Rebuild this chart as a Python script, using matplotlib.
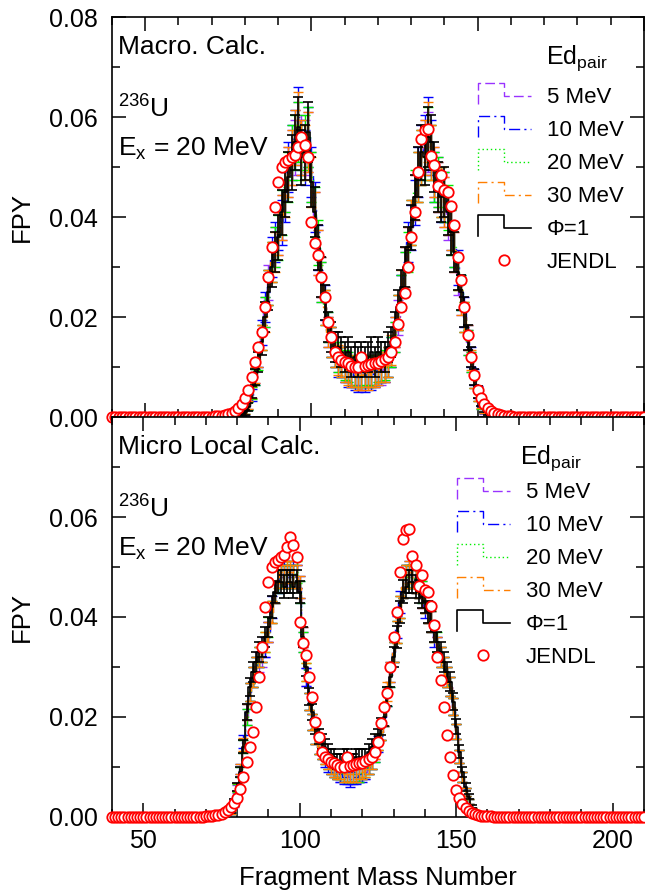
import numpy as np
import matplotlib
matplotlib.use("Agg")
import matplotlib.pyplot as plt
from matplotlib.lines import Line2D
from matplotlib.legend_handler import HandlerBase
from matplotlib.ticker import MultipleLocator, FormatStrFormatter

plt.rcParams["font.family"] = ["Liberation Sans", "DejaVu Sans"]
plt.rcParams["mathtext.fontset"] = "custom"
plt.rcParams["mathtext.rm"] = "Liberation Sans"
plt.rcParams["mathtext.it"] = "Liberation Sans:italic"

# all yields below are FPY x 1000
mass_model = np.arange(78, 157)

# --- macroscopic calculation ---
macro_5 = [0, 0.4, 1.2, 2.5, 5, 8.5, 12, 16, 21, 27,
           31, 34, 37, 40, 46, 49, 52, 54, 57, 55,
           54, 55, 48, 40, 33, 27, 22, 18, 15, 13,
           12, 11, 10, 10, 9, 9.5, 9, 8.5, 9, 9,
           9.5, 9, 10, 9.5, 10, 11, 13, 16, 20, 25,
           29, 34, 39, 44, 48, 52, 54, 55, 53, 49,
           47, 45, 43, 40, 37, 33, 28, 24, 20, 15,
           11, 7.5, 4.5, 2.5, 1.2, 0.5, 0.2, 0.1, 0]
macro_10 = [0, 0.5, 1.0, 2.2, 4.5, 8, 12, 17, 22, 26,
            32, 35, 38, 39, 44, 50, 53, 56, 60, 54,
            52, 56, 49, 42, 34, 28, 23, 17, 15, 13,
            11, 11, 10, 9, 9, 8.5, 8, 8.5, 8, 9,
            8.5, 9, 9.5, 10, 10, 11, 13, 17, 21, 25,
            30, 35, 38, 43, 49, 53, 55, 58, 54, 48,
            46, 44, 44, 41, 38, 34, 30, 25, 21, 16,
            12, 8, 5, 3, 1.4, 0.6, 0.2, 0.1, 0]
macro_20 = [0, 0.4, 1.1, 2.3, 4.8, 8, 11.5, 16, 21, 26,
            31, 34, 36, 41, 46, 48, 53, 55, 57, 53,
            55, 56, 48, 41, 35, 27, 22, 18, 15, 13,
            12, 11, 10.5, 10, 9.5, 9, 9, 9, 9.5, 9,
            9, 9.5, 10, 10, 10.5, 11, 13, 16, 21, 25,
            29, 33, 39, 45, 48, 52, 53, 56, 53, 48,
            47, 45, 44, 42, 37, 34, 29, 25, 20, 15,
            11, 7.5, 4.5, 2.5, 1.3, 0.5, 0.2, 0.1, 0]
macro_30 = [0, 0.5, 1.2, 2.4, 5, 8.5, 12, 16, 20, 26,
            31, 33, 37, 40, 45, 49, 52, 56, 59, 54,
            53, 55, 47, 40, 33, 28, 22, 17, 15, 13,
            11.5, 11, 10, 9.5, 9, 9, 8.5, 8.5, 9, 8.5,
            9, 9, 9.5, 10, 10, 11, 13.5, 17, 21, 26,
            30, 34, 39, 44, 48, 52, 54, 57, 53, 49,
            46, 45, 43, 41, 38, 33, 29, 24, 20, 16,
            11.5, 7.5, 4.5, 2.6, 1.3, 0.5, 0.2, 0.1, 0]
macro_phi1 = [0, 0.5, 1, 2, 5, 8, 11, 15, 20, 25,
              30, 33, 36, 41, 45, 48, 51, 55, 58, 52,
              53, 57, 47, 41, 34, 28, 23, 18, 16, 14,
              14, 13, 12, 13, 11, 12, 11, 12, 11, 12,
              13, 11, 13, 12, 12, 14, 15, 18, 22, 26,
              30, 34, 38, 44, 49, 53, 52, 56, 55, 50,
              46, 44, 45, 41, 37, 33, 29, 25, 21, 16,
              12, 8, 5, 3, 1.5, 0.7, 0.3, 0.1, 0]
macro_err = [0, 0.3, 0.5, 0.8, 1.2, 1.6, 2, 2.5, 3, 3.5,
             4, 4, 4.5, 4.5, 5, 5, 5.5, 5.5, 6, 5.5,
             5.5, 6, 5, 5, 4.5, 4, 3.5, 3, 3, 3,
             3, 3, 3, 3, 3, 3, 3, 3, 3, 3,
             3, 3, 3, 3, 3, 3, 3, 3, 3.5, 3.5,
             4, 4, 4.5, 4.5, 5, 5.5, 5.5, 6, 5.5, 5,
             5, 5, 5, 4.5, 4.5, 4, 3.5, 3.5, 3, 2.5,
             2, 1.6, 1.2, 0.8, 0.5, 0.3, 0.2, 0.1, 0]

# --- microscopic local calculation ---
micro_5 = [0.8, 2.5, 5.5, 9, 14, 20, 25, 28, 30, 31,
           32, 34, 37, 41, 45, 47, 48, 48, 48, 49,
           48, 48, 45, 35, 28, 23, 19, 16, 14, 13,
           12, 11, 10, 9.5, 9, 8.5, 8.5, 8.5, 8, 8.5,
           8.5, 8.5, 9, 9, 10, 11, 13, 15, 17, 20,
           24, 28, 33, 37, 42, 46, 48, 48, 48, 47,
           46, 45, 43, 41, 39, 37, 34, 32, 30, 28,
           26, 22, 17, 12, 8, 5, 3, 1.5, 0.6]
micro_10 = [0.9, 2.8, 6, 9.5, 15, 21, 25, 28, 30, 32,
            33, 34, 37, 42, 45, 47, 48, 49, 48, 48,
            49, 48, 46, 36, 28, 23, 19, 16, 14, 13,
            11.5, 10.5, 10, 9.5, 9, 8.5, 8, 8, 7.5, 8,
            8, 8.5, 8.5, 9, 10, 11, 12.5, 14.5, 17, 20,
            24, 29, 33, 38, 43, 46, 48, 49, 48, 47,
            46, 44, 42, 41, 39, 36, 34, 32, 30, 28,
            26, 22, 17, 12, 8, 5, 3, 1.5, 0.6]
micro_20 = [0.8, 2.6, 5.8, 9, 14, 20, 25, 28, 30, 32,
            33, 35, 38, 41, 45, 47, 48, 48, 49, 48,
            48, 49, 45, 35, 29, 23, 19, 16, 14, 13,
            12, 11, 10, 9.5, 9, 9, 8.5, 8.5, 8.5, 8.5,
            8.5, 8.5, 9, 9.5, 10, 11, 12.5, 15, 17, 20,
            24, 28, 33, 37, 42, 46, 48, 48, 48, 47,
            46, 45, 43, 41, 39, 37, 35, 32, 30, 28,
            26, 22, 17, 12, 8, 5, 3, 1.5, 0.6]
micro_30 = [0.9, 2.7, 6, 9.5, 14.5, 21, 25, 28, 30, 32,
            33, 35, 37, 41, 45, 48, 49, 48, 49, 49,
            48, 48, 46, 36, 29, 23, 19, 16, 14, 13,
            12, 11, 10, 9.5, 9, 9, 8.5, 8.5, 8.5, 8.5,
            8.5, 9, 9, 9.5, 10, 11, 13, 15, 17, 20,
            25, 29, 33, 37, 42, 46, 48, 49, 48, 47,
            46, 44, 43, 41, 39, 37, 34, 32, 30, 28,
            26, 22, 17, 12, 8, 5, 3, 1.5, 0.6]
micro_phi1 = [1, 3, 6, 9, 14, 21, 26, 29, 31, 33,
              34, 36, 38, 42, 45, 47, 47, 46, 47, 47,
              46, 47, 45, 36, 30, 24, 21, 18, 16, 15,
              14, 13, 12, 12, 11, 11, 12, 12, 11, 11,
              12, 12, 12, 12, 13, 14, 15, 16, 18, 20,
              24, 28, 32, 36, 41, 45, 46, 47, 47, 46,
              45, 44, 43, 41, 39, 37, 35, 33, 31, 29,
              27, 23, 18, 13, 9, 6, 4, 2, 1]
micro_err = [0.3, 0.5, 0.8, 1, 1.3, 1.6, 1.8, 2, 2, 2,
             2, 2, 2, 2.2, 2.2, 2.3, 2.3, 2.3, 2.3, 2.3,
             2.3, 2.3, 2.2, 2, 1.8, 1.7, 1.6, 1.5, 1.5, 1.5,
             1.5, 1.5, 1.5, 1.5, 1.5, 1.5, 1.5, 1.5, 1.5, 1.5,
             1.5, 1.5, 1.5, 1.5, 1.5, 1.5, 1.5, 1.6, 1.7, 1.8,
             1.9, 2, 2, 2.2, 2.2, 2.3, 2.3, 2.3, 2.3, 2.3,
             2.3, 2.2, 2.2, 2.2, 2.1, 2, 2, 2, 2, 2,
             1.9, 1.7, 1.5, 1.3, 1, 0.8, 0.5, 0.3, 0.2]

# --- JENDL evaluated yields, A = 40..210 ---
jendl_mass = np.arange(40, 211)
jendl_core = [0.02, 0.03, 0.05, 0.07, 0.1, 0.15, 0.2, 0.3, 0.45, 0.65,
              0.9, 1.3, 1.9, 2.7, 3.8, 5.5, 8.0, 11, 14, 17,
              22, 28, 34, 42, 47, 50, 51, 51.5, 52, 52.5,
              54, 56, 54.5, 52, 39, 34.8, 32.4, 28, 24, 19,
              16, 13, 12, 11.5, 11, 10.8, 10.3, 10, 10, 12,
              10.2, 10.4, 10.6, 10.8, 10.8, 11.2, 11.6, 12, 13, 15,
              18.7, 22, 24.8, 30, 36, 41, 49, 55.6, 57.4, 57.6,
              52.2, 50.4, 46.2, 48.4, 45.4, 45, 42.2, 38.4, 32, 27.4,
              22, 16.4, 12, 8.4, 5.4, 3.8, 2.6, 1.8, 1.2, 0.8,
              0.55, 0.4, 0.28, 0.2, 0.14, 0.1, 0.07, 0.05, 0.03, 0.02, 0.01]
jendl = [0.0] * 26 + jendl_core + [0.0] * 44

labels = ["5 MeV", "10 MeV", "20 MeV", "30 MeV", "\u03a6=1"]
colors = ["#9933ff", "#0000ff", "#00ee00", "#ff7f00", "black"]
styles = [(0, (7, 3)), (0, (8, 3, 1.5, 3)), (0, (1, 2)), (0, (7, 3, 1.5, 3)), "-"]


class StepHandler(HandlerBase):
    # histogram-like step for the legend key
    def create_artists(self, legend, orig_handle, xdescent, ydescent,
                       width, height, fontsize, trans):
        x0, y0 = -xdescent, -ydescent
        xs = [x0, x0, x0 + 0.5 * width, x0 + 0.5 * width, x0 + width]
        ys = [y0 - 0.1 * height, y0 + 1.25 * height, y0 + 1.25 * height,
              y0 + 0.45 * height, y0 + 0.45 * height]
        line = Line2D(xs, ys)
        self.update_prop(line, orig_handle, legend)
        line.set_transform(trans)
        return [line]


def draw_panel(ax, series, err, xmax, title, leg_x, leg_y, ed_x):
    yerr = np.array(err) / 1000
    for vals, color, ls in zip(series, colors, styles):
        y = np.array(vals) / 1000
        lw = 1.2 if color == "black" else 1.0
        ax.errorbar(mass_model, y, yerr=yerr, fmt="none", ecolor=color,
                    elinewidth=lw, capsize=3.5, capthick=lw)
        ax.step(mass_model, y, where="mid", color=color, ls=ls, lw=lw)

    m = jendl_mass <= xmax
    ax.plot(jendl_mass[m], np.array(jendl)[m] / 1000, "o", mfc="white",
            mec="red", ms=7.5, mew=1.3, clip_on=False, zorder=5)

    ax.set_xlim(40, xmax)
    ax.set_ylim(0, 0.08)
    ax.xaxis.set_major_locator(MultipleLocator(50))
    ax.xaxis.set_minor_locator(MultipleLocator(10))
    ax.yaxis.set_major_locator(MultipleLocator(0.02))
    ax.yaxis.set_minor_locator(MultipleLocator(0.01))
    ax.yaxis.set_major_formatter(FormatStrFormatter("%.2f"))
    ax.tick_params(which="both", direction="in", top=True, right=True,
                   width=1.1, labelsize=18)
    ax.tick_params(which="major", length=10)
    ax.tick_params(which="minor", length=6)
    ax.tick_params(axis="x", pad=9)
    ax.tick_params(axis="y", pad=10)
    for sp in ax.spines.values():
        sp.set_linewidth(1.2)

    ax.text(0.011, 0.925, title, transform=ax.transAxes, fontsize=19,
            va="center", ha="left")
    ax.text(0.011, 0.77, r"$^{236}$U", transform=ax.transAxes, fontsize=19,
            va="center", ha="left")
    ax.text(0.011, 0.67, r"E$_\mathrm{x}$ = 20 MeV", transform=ax.transAxes,
            fontsize=19, va="center", ha="left")

    handles = [Line2D([], [], color=c, ls=s, lw=1.0 if c != "black" else 1.2)
               for c, s in zip(colors, styles)]
    jh = Line2D([], [], marker="o", ls="none", mfc="white", mec="red",
                ms=7.5, mew=1.3)
    hmap = {h: StepHandler() for h in handles}
    ax.legend(handles + [jh], labels + ["JENDL"], handler_map=hmap,
              loc="upper left", bbox_to_anchor=(leg_x, leg_y), frameon=False,
              fontsize=16, handlelength=2.38, handletextpad=0.72,
              labelspacing=0.54, borderpad=0, borderaxespad=0)
    ax.text(ed_x, 0.898, r"Ed$_\mathrm{pair}$", transform=ax.transAxes,
            fontsize=18, va="center", ha="left")


fig = plt.figure(figsize=(6.45, 8.92), dpi=100)
ax_top = fig.add_axes([0.1736, 0.5325, 0.8248, 0.4484])
ax_bot = fig.add_axes([0.1736, 0.0841, 0.8248, 0.4484])

draw_panel(ax_top, [macro_5, macro_10, macro_20, macro_30, macro_phi1],
           macro_err, 200, "Macro. Calc.", 0.688, 0.826, 0.816)
draw_panel(ax_bot, [micro_5, micro_10, micro_20, micro_30, micro_phi1],
           micro_err, 210, "Micro Local Calc.", 0.648, 0.838, 0.767)

ax_top.tick_params(axis="x", labelbottom=False)
ax_bot.set_yticks([0, 0.02, 0.04, 0.06, 0.08])
ax_bot.set_yticklabels(["0.00", "0.02", "0.04", "0.06", ""])

fig.text(0.034, 1 - 217 / 892, "FPY", rotation=90, va="center", ha="center",
         fontsize=18.5)
fig.text(0.034, 1 - 617 / 892, "FPY", rotation=90, va="center", ha="center",
         fontsize=18.5)
fig.text(0.586, 0.0157, "Fragment Mass Number", va="center", ha="center",
         fontsize=18.5)

fig.savefig("out.png", dpi=100)
